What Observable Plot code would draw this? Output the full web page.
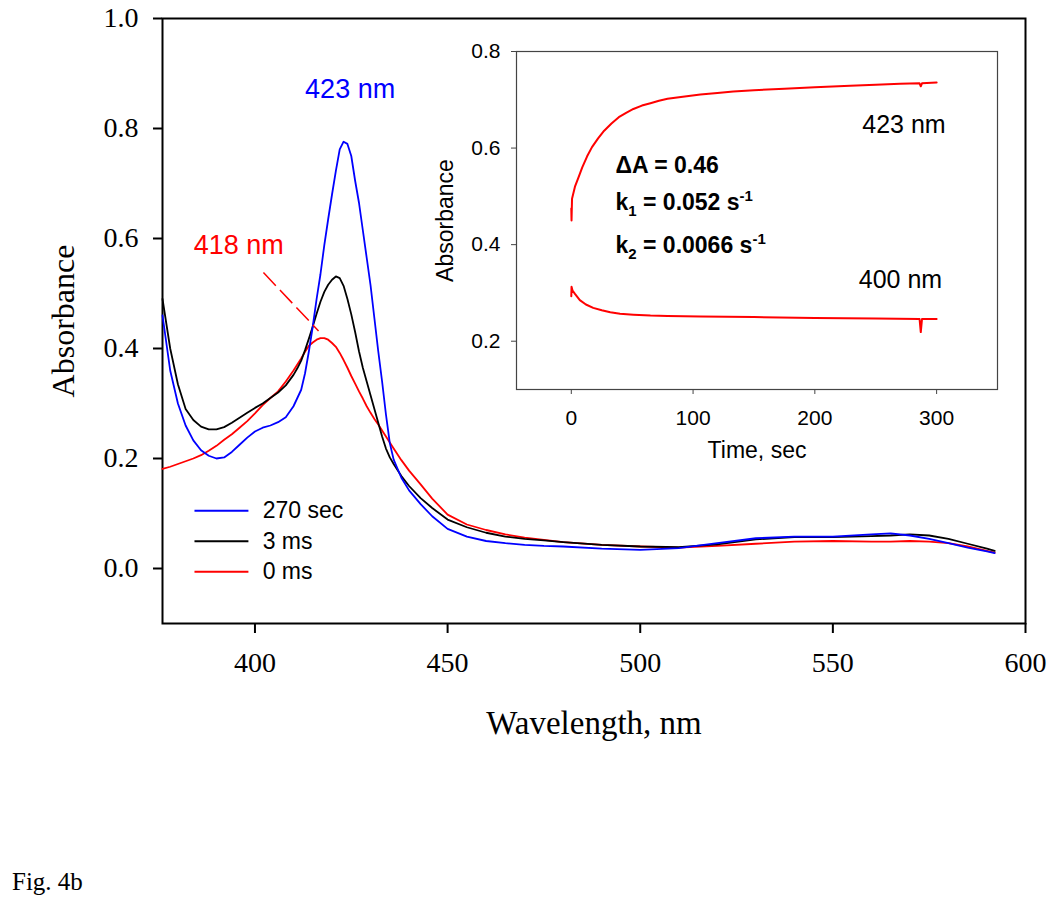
<!DOCTYPE html>
<html><head><meta charset="utf-8">
<script src="https://cdn.jsdelivr.net/npm/d3@7"></script>
<script src="https://cdn.jsdelivr.net/npm/@observablehq/plot@0.6"></script>
<style>
body{margin:0;background:#fff;}
#wrap{position:relative;width:1050px;height:899px;overflow:hidden;background:#fff;}
#main,#inset{position:absolute;}
#main{left:0;top:0;}
#inset{left:420px;top:40px;}
#fig{position:absolute;left:12px;top:869px;font-family:"Liberation Serif";font-size:25px;line-height:25px;}
</style></head><body>
<div id="wrap"><div id="main"></div><div id="inset"></div><div id="fig">Fig. 4b</div></div>
<script>
// ---- Main spectra data ----
const wavelength = [376,378,380,382,384,386,388,390,392,394,396,398,400,402,404,406,408,
  410,411,412,413,414,415,416,417,418,419,420,421,422,423,424,425,426,427,428,429,430,431,432,433,434,435,436,
  438,440,443,446,450,455,460,465,470,475,480,490,500,510,520,530,540,550,560,565,570,575,580,585,590,592];
const abs270s = [0.46,0.36,0.30,0.26,0.233,0.215,0.205,0.200,0.202,0.212,0.225,0.238,0.249,0.256,0.26,0.266,0.275,
  0.295,0.31,0.325,0.355,0.395,0.44,0.49,0.535,0.588,0.635,0.68,0.723,0.762,0.776,0.772,0.75,0.705,0.665,0.615,0.565,0.515,0.455,0.395,0.34,0.28,0.228,0.198,
  0.165,0.142,0.117,0.095,0.072,0.058,0.05,0.046,0.043,0.041,0.040,0.036,0.034,0.037,0.046,0.055,0.058,0.058,0.062,0.064,0.060,0.054,0.046,0.038,0.031,0.028];
const abs3ms = [0.49,0.40,0.335,0.29,0.27,0.258,0.253,0.253,0.257,0.265,0.274,0.283,0.292,0.300,0.310,0.320,0.333,
  0.352,0.364,0.378,0.397,0.418,0.44,0.463,0.485,0.503,0.516,0.525,0.531,0.528,0.514,0.49,0.462,0.43,0.395,0.365,0.34,0.315,0.29,0.265,0.24,0.218,0.202,0.19,
  0.168,0.150,0.128,0.110,0.089,0.075,0.065,0.058,0.054,0.051,0.048,0.043,0.040,0.039,0.044,0.053,0.057,0.057,0.059,0.060,0.062,0.060,0.054,0.045,0.036,0.032];
const abs0ms = [0.181,0.185,0.19,0.195,0.200,0.206,0.214,0.223,0.234,0.244,0.256,0.268,0.282,0.297,0.310,0.322,0.340,
  0.36,0.371,0.382,0.394,0.405,0.411,0.416,0.419,0.419,0.416,0.410,0.403,0.392,0.379,0.365,0.35,0.336,0.322,0.309,0.295,0.283,0.272,0.262,0.251,0.24,0.229,0.218,
  0.197,0.178,0.153,0.127,0.098,0.08,0.07,0.062,0.056,0.052,0.048,0.043,0.040,0.038,0.041,0.045,0.049,0.050,0.049,0.049,0.050,0.049,0.046,0.040,0.032,0.029];
const seriesNames = ["270 sec", "3 ms", "0 ms"];
const seriesColors = ["#0000ff", "#000000", "#ff0000"];
const xTicks = [400, 450, 500, 550, 600];
const yTicks = [0.0, 0.2, 0.4, 0.6, 0.8, 1.0];

// ---- Inset kinetics data ----
const time423 = [0,0.2,0.6,3,6,9,13,17,22,27,33,39,45,51,58,65,72,79,90,106,120,133,150,175,200,229,250,270,286,287,288,300];
const abs423 = [0.475,0.45,0.495,0.52,0.54,0.56,0.583,0.602,0.62,0.636,0.651,0.664,0.673,0.681,0.688,0.693,0.698,0.702,0.706,0.711,0.714,0.717,0.720,0.723,0.726,0.729,0.731,0.733,0.734,0.728,0.734,0.736];
const time400 = [0,0.2,1,3,7,12,18,25,32,40,51,65,79,106,150,200,250,286,287,288,300];
const abs400 = [0.293,0.313,0.305,0.298,0.285,0.276,0.269,0.264,0.260,0.257,0.255,0.253,0.252,0.251,0.250,0.248,0.247,0.246,0.219,0.246,0.246];
const insetXTicks = [0, 100, 200, 300];
const insetYTicks = [0.2, 0.4, 0.6, 0.8];

const spectra = [];
[abs270s, abs3ms, abs0ms].forEach((arr, i) => arr.forEach((a, j) => spectra.push({w: wavelength[j], a, s: seriesNames[i]})));
const drawOrder = ["0 ms", "3 ms", "270 sec"];
spectra.sort((p, q) => drawOrder.indexOf(p.s) - drawOrder.indexOf(q.s));

const legendRows = seriesNames.map((name, i) => ({name, i}));

const main = Plot.plot({
  width: 1050, height: 899,
  marginLeft: 162, marginRight: 25, marginTop: 18, marginBottom: 276,
  style: {fontFamily: "Liberation Serif", fontSize: "28px", background: "transparent", color: "black"},
  x: {domain: [376, 600]},
  y: {domain: [-0.1, 1.0]},
  color: {domain: seriesNames, range: seriesColors},
  marks: [
    Plot.axisX({ticks: xTicks, tickSize: 10, tickPadding: 19, strokeWidth: 2, label: null, tickFormat: d => String(d)}),
    Plot.axisY({ticks: yTicks, tickSize: 9, tickPadding: 15, strokeWidth: 2, label: null, tickFormat: d3.format(".1f")}),
    Plot.frame({stroke: "black", strokeWidth: 2}),
    Plot.line(spectra, {x: "w", y: "a", z: "s", stroke: "s", strokeWidth: 1.8}),
    Plot.text(["Absorbance"], {frameAnchor: "left", dx: -99, rotate: -90, textAnchor: "middle", lineAnchor: "middle", fontSize: 32, fontFamily: "Liberation Serif"}),
    Plot.text(["Wavelength, nm"], {frameAnchor: "bottom", dy: 100, textAnchor: "middle", lineAnchor: "middle", fontSize: 33, fontFamily: "Liberation Serif"}),
    Plot.text(["423 nm"], {x: 424.7, y: 0.872, fill: "#0000ff", fontSize: 27, fontFamily: "Liberation Sans"}),
    Plot.text(["418 nm"], {x: 395.8, y: 0.587, fill: "#ff0000", fontSize: 27, fontFamily: "Liberation Sans"}),
    Plot.link([0], {x1: 402.2, y1: 0.538, x2: 416.5, y2: 0.432, stroke: "#ff0000", strokeWidth: 1.5, strokeDasharray: "18,6"}),
    Plot.link(legendRows, {x1: 384.3, x2: 398.3, y1: d => 0.105 - d.i * 0.0555, y2: d => 0.105 - d.i * 0.0555, stroke: d => d.name, strokeWidth: 2}),
    Plot.text(legendRows, {x: 402, y: d => 0.105 - d.i * 0.0555, text: "name", textAnchor: "start", fontSize: 23, fontFamily: "Liberation Sans"})
  ]
});
document.getElementById("main").appendChild(main);

const inset = Plot.plot({
  width: 582, height: 430,
  marginLeft: 96, marginRight: 5, marginTop: 11, marginBottom: 81,
  style: {fontFamily: "Liberation Sans", fontSize: "21px", background: "transparent", color: "black"},
  x: {domain: [-45, 350]},
  y: {domain: [0.1, 0.8]},
  marks: [
    Plot.axisX({ticks: insetXTicks, tickSize: 5, tickPadding: 16, stroke: "#444", label: null}),
    Plot.axisY({ticks: insetYTicks, tickSize: 5, tickPadding: 11, stroke: "#444", label: null, tickFormat: d3.format(".1f")}),
    Plot.frame({stroke: "#444", strokeWidth: 1.2}),
    Plot.line(time423.map((t, i) => ({t, a: abs423[i]})), {x: "t", y: "a", stroke: "#ff0000", strokeWidth: 2}),
    Plot.line(time400.map((t, i) => ({t, a: abs400[i]})), {x: "t", y: "a", stroke: "#ff0000", strokeWidth: 2}),
    Plot.text(["Absorbance"], {frameAnchor: "left", dx: -71, rotate: -90, textAnchor: "middle", lineAnchor: "middle", fontSize: 23}),
    Plot.text(["Time, sec"], {frameAnchor: "bottom", dy: 61, textAnchor: "middle", lineAnchor: "middle", fontSize: 23}),
    Plot.text(["423 nm"], {x: 273.2, y: 0.647, fontSize: 25}),
    Plot.text(["400 nm"], {x: 270.3, y: 0.326, fontSize: 25}),
    Plot.text(["ΔA = 0.46"], {x: 36.3, y: 0.564, textAnchor: "start", fontSize: 23, fontWeight: "bold"}),
    Plot.text(["k1 = 0.052 s-1"], {x: 36.3, y: 0.488, textAnchor: "start", fontSize: 23, fontWeight: "bold"}),
    Plot.text(["k2 = 0.0066 s-1"], {x: 36.3, y: 0.397, textAnchor: "start", fontSize: 23, fontWeight: "bold"})
  ]
});
document.getElementById("inset").appendChild(inset);

function richify(svg, match, parts) {
  d3.select(svg).selectAll("text").filter(function() { return this.textContent === match; }).each(function() {
    const t = d3.select(this);
    t.text(null);
    for (const [s, dy, fs] of parts) {
      const sp = t.append("tspan").attr("dy", dy).text(s);
      if (fs) sp.attr("font-size", fs);
    }
  });
}
richify(inset, "k1 = 0.052 s-1", [["k", 0, null], ["1", 6, 15], [" = 0.052 s", -6, 23], ["-1", -9, 15]]);
richify(inset, "k2 = 0.0066 s-1", [["k", 0, null], ["2", 6, 15], [" = 0.0066 s", -6, 23], ["-1", -9, 15]]);
</script>
</body></html>
